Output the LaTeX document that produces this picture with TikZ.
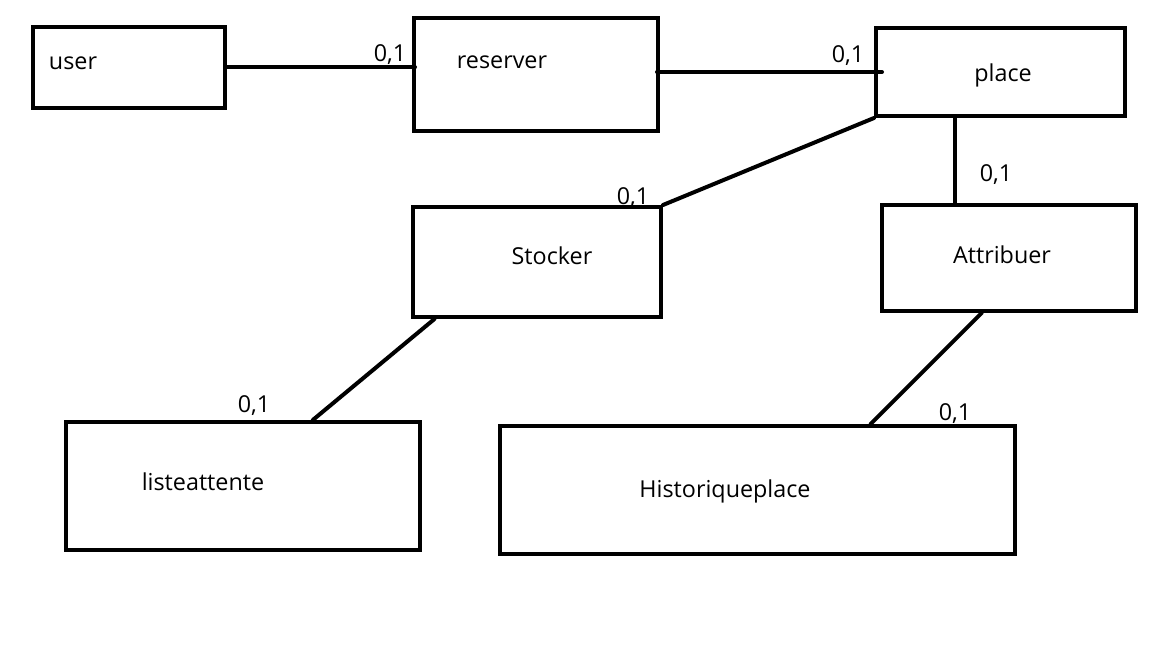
\documentclass[tikz,border=0pt]{standalone}
\usepackage{fontspec}
\setmainfont{Open Sans}
\usetikzlibrary{calc}
\tikzset{
    entite/.style={draw=black, line width=3pt, inner sep=0pt},
    lien/.style={line width=3pt, line cap=round},
    card/.style={font=\fontsize{17.5}{20}\selectfont, inner sep=0pt},
    nom/.style={font=\fontsize{17.5}{20}\selectfont, inner sep=0pt}
}
\begin{document}
\begin{tikzpicture}[x=0.75pt, y=-0.75pt]
        \useasboundingbox (0,0) rectangle (1152,648);
        % boites
        \node[entite, minimum width=144pt, minimum height=60.75pt] (user) at (129,67.5) {};
        \node[entite, minimum width=183pt, minimum height=84.75pt] (reserver) at (536,74.5) {};
        \node[entite, minimum width=186.75pt, minimum height=66pt] (place) at (1000.5,72) {};
        \node[entite, minimum width=186pt, minimum height=82.5pt] (stocker) at (537,262) {};
        \node[entite, minimum width=190.5pt, minimum height=79.5pt] (attribuer) at (1009,258) {};
        \node[entite, minimum width=265.5pt, minimum height=96pt] (liste) at (243,486) {};
        \node[entite, minimum width=386.25pt, minimum height=96pt] (histo) at (757.5,490) {};
        % textes
        \node[nom] (tuser) at (73,63) {user};
        \node[nom] (treserver) at (502,62) {reserver};
        \node[nom] (tplace) at (1003,75) {place};
        \node[nom] (tstocker) at (552,256) {Stocker};
        \node[nom] (tattribuer) at (1002,255) {Attribuer};
        \node[nom] (tliste) at (203,482) {listeattente};
        \node[nom] (thisto) at (725,491) {Historiqueplace};
        % liens
        \draw[lien] ($(user.east)+(-2,0)$) -- ($(user.east -| reserver.west)+(3,0)$);
        \draw[lien] ($(place.west)+(8,0)$) -- ($(place.west -| reserver.east)+(-3,0)$);
        \draw[lien] (place.south west) -- (stocker.north east);
        \coordinate (p1) at ($(place.south west)!0.32!(place.south east)$);
        \draw[lien] (p1) -- (p1 |- attribuer.north);
        \draw[lien] ($(stocker.south west)!0.093!(stocker.south east)$) -- ($(liste.north west)!0.695!(liste.north east)$);
        \draw[lien] ($(attribuer.south west)!0.394!(attribuer.south east)$) -- ($(histo.north west)!0.718!(histo.north east)$);
        % cardinalites
        \node[card] (c1) at (390,55) {0,1};
        \node[card] (c2) at (848,56) {0,1};
        \node[card] (c3) at (633,198) {0,1};
        \node[card] (c4) at (996,175) {0,1};
        \node[card] (c5) at (254,406) {0,1};
        \node[card] (c6) at (955,414) {0,1};
\end{tikzpicture}
\end{document}
